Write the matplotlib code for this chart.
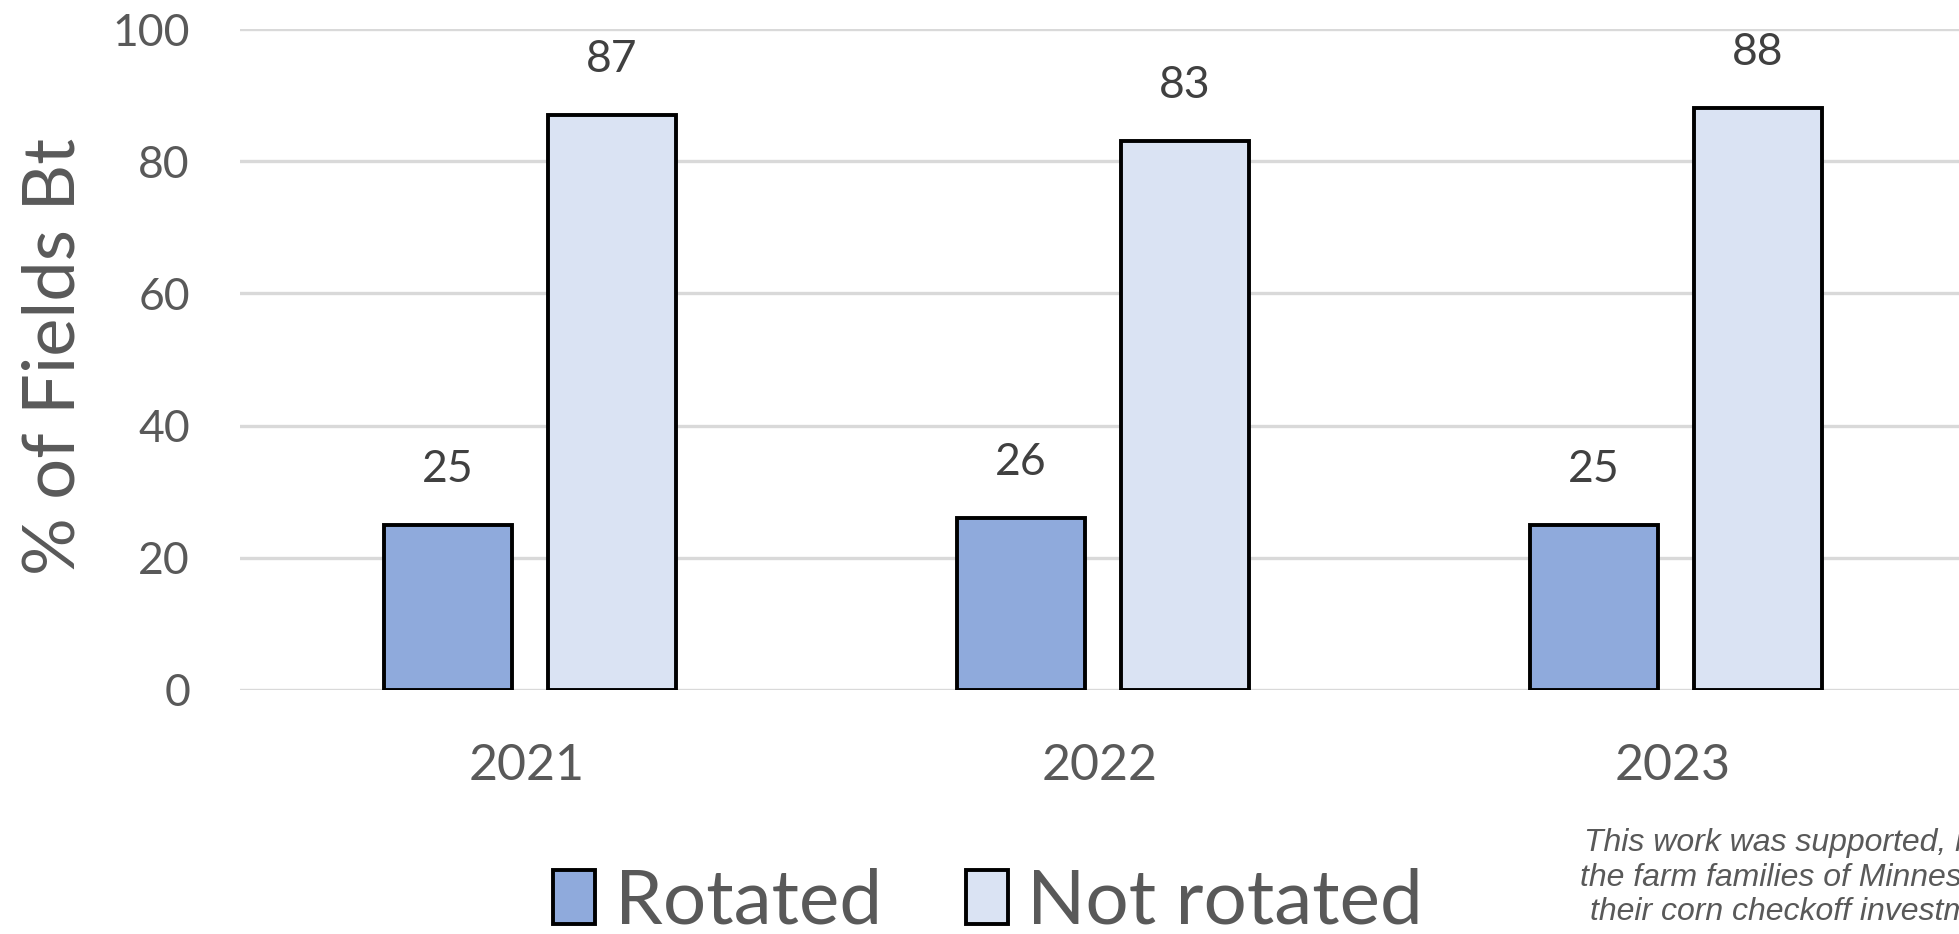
import numpy as np
import matplotlib.pyplot as plt

years = ["2021", "2022", "2023"]
rotated = [25, 26, 25]
not_rotated = [87, 83, 88]
series_names = ["Rotated", "Not rotated"]
yticks = [0, 20, 40, 60, 80, 100]
note_lines = ["This work was supported, in part, by",
              "the farm families of Minnesota and",
              "their corn checkoff investment."]

c_rot = "#8FAADC"
c_not = "#DAE3F3"
grey = "#595959"

plt.rcParams['font.family'] = ['Lato', 'DejaVu Sans']

fig = plt.figure(figsize=(19.59, 9.34), dpi=100)
ax = fig.add_axes([240/1959, 244/934, 1 - 240/1959, 661/934])

x = np.arange(len(years))
w = 0.224
b1 = ax.bar(x - 0.137, rotated, w, color=c_rot, edgecolor="black", linewidth=2.8, zorder=3)
b2 = ax.bar(x + 0.149, not_rotated, w, color=c_not, edgecolor="black", linewidth=2.8, zorder=3)

for bars, vals in ((b1, rotated), (b2, not_rotated)):
    for r, v in zip(bars, vals):
        ax.annotate(str(v), (r.get_x() + r.get_width()/2, v), xytext=(0, 40),
                    textcoords="offset points", ha="center", va="center",
                    fontsize=32, color="#404040")

ax.set_xlim(-0.5, 2.5)
ax.set_ylim(0, 100)
ax.set_yticks(yticks)
ax.set_xticks(x)
ax.set_xticklabels(years)
ax.tick_params(axis="both", length=0, labelcolor=grey)
ax.tick_params(axis="x", pad=38, labelsize=36)
ax.tick_params(axis="y", pad=36, labelsize=32)
ax.grid(axis="y", color="#D9D9D9", linewidth=2.4, zorder=0)
for s in ax.spines.values():
    s.set_visible(False)

ax.set_ylabel("% of Fields Bt", fontsize=52, color=grey, va="center")
ax.yaxis.set_label_coords(-0.108, 0.504)

fig.legend([b1, b2], series_names, loc="center", bbox_to_anchor=(988/1959, 0.034),
           ncol=2, frameon=False, fontsize=55, labelcolor=grey,
           handlelength=0.55, handleheight=0.7, handletextpad=0.25, columnspacing=1.1)

ys = [843, 878, 912]
xs = [1584, 1580, 1590]
for t, xx, yy in zip(note_lines, xs, ys):
    fig.text(xx/1959, 1 - yy/934, t, family="Liberation Sans", style="italic",
             fontsize=23, color=grey, ha="left", va="center")

fig.savefig("out.png", dpi=100)
